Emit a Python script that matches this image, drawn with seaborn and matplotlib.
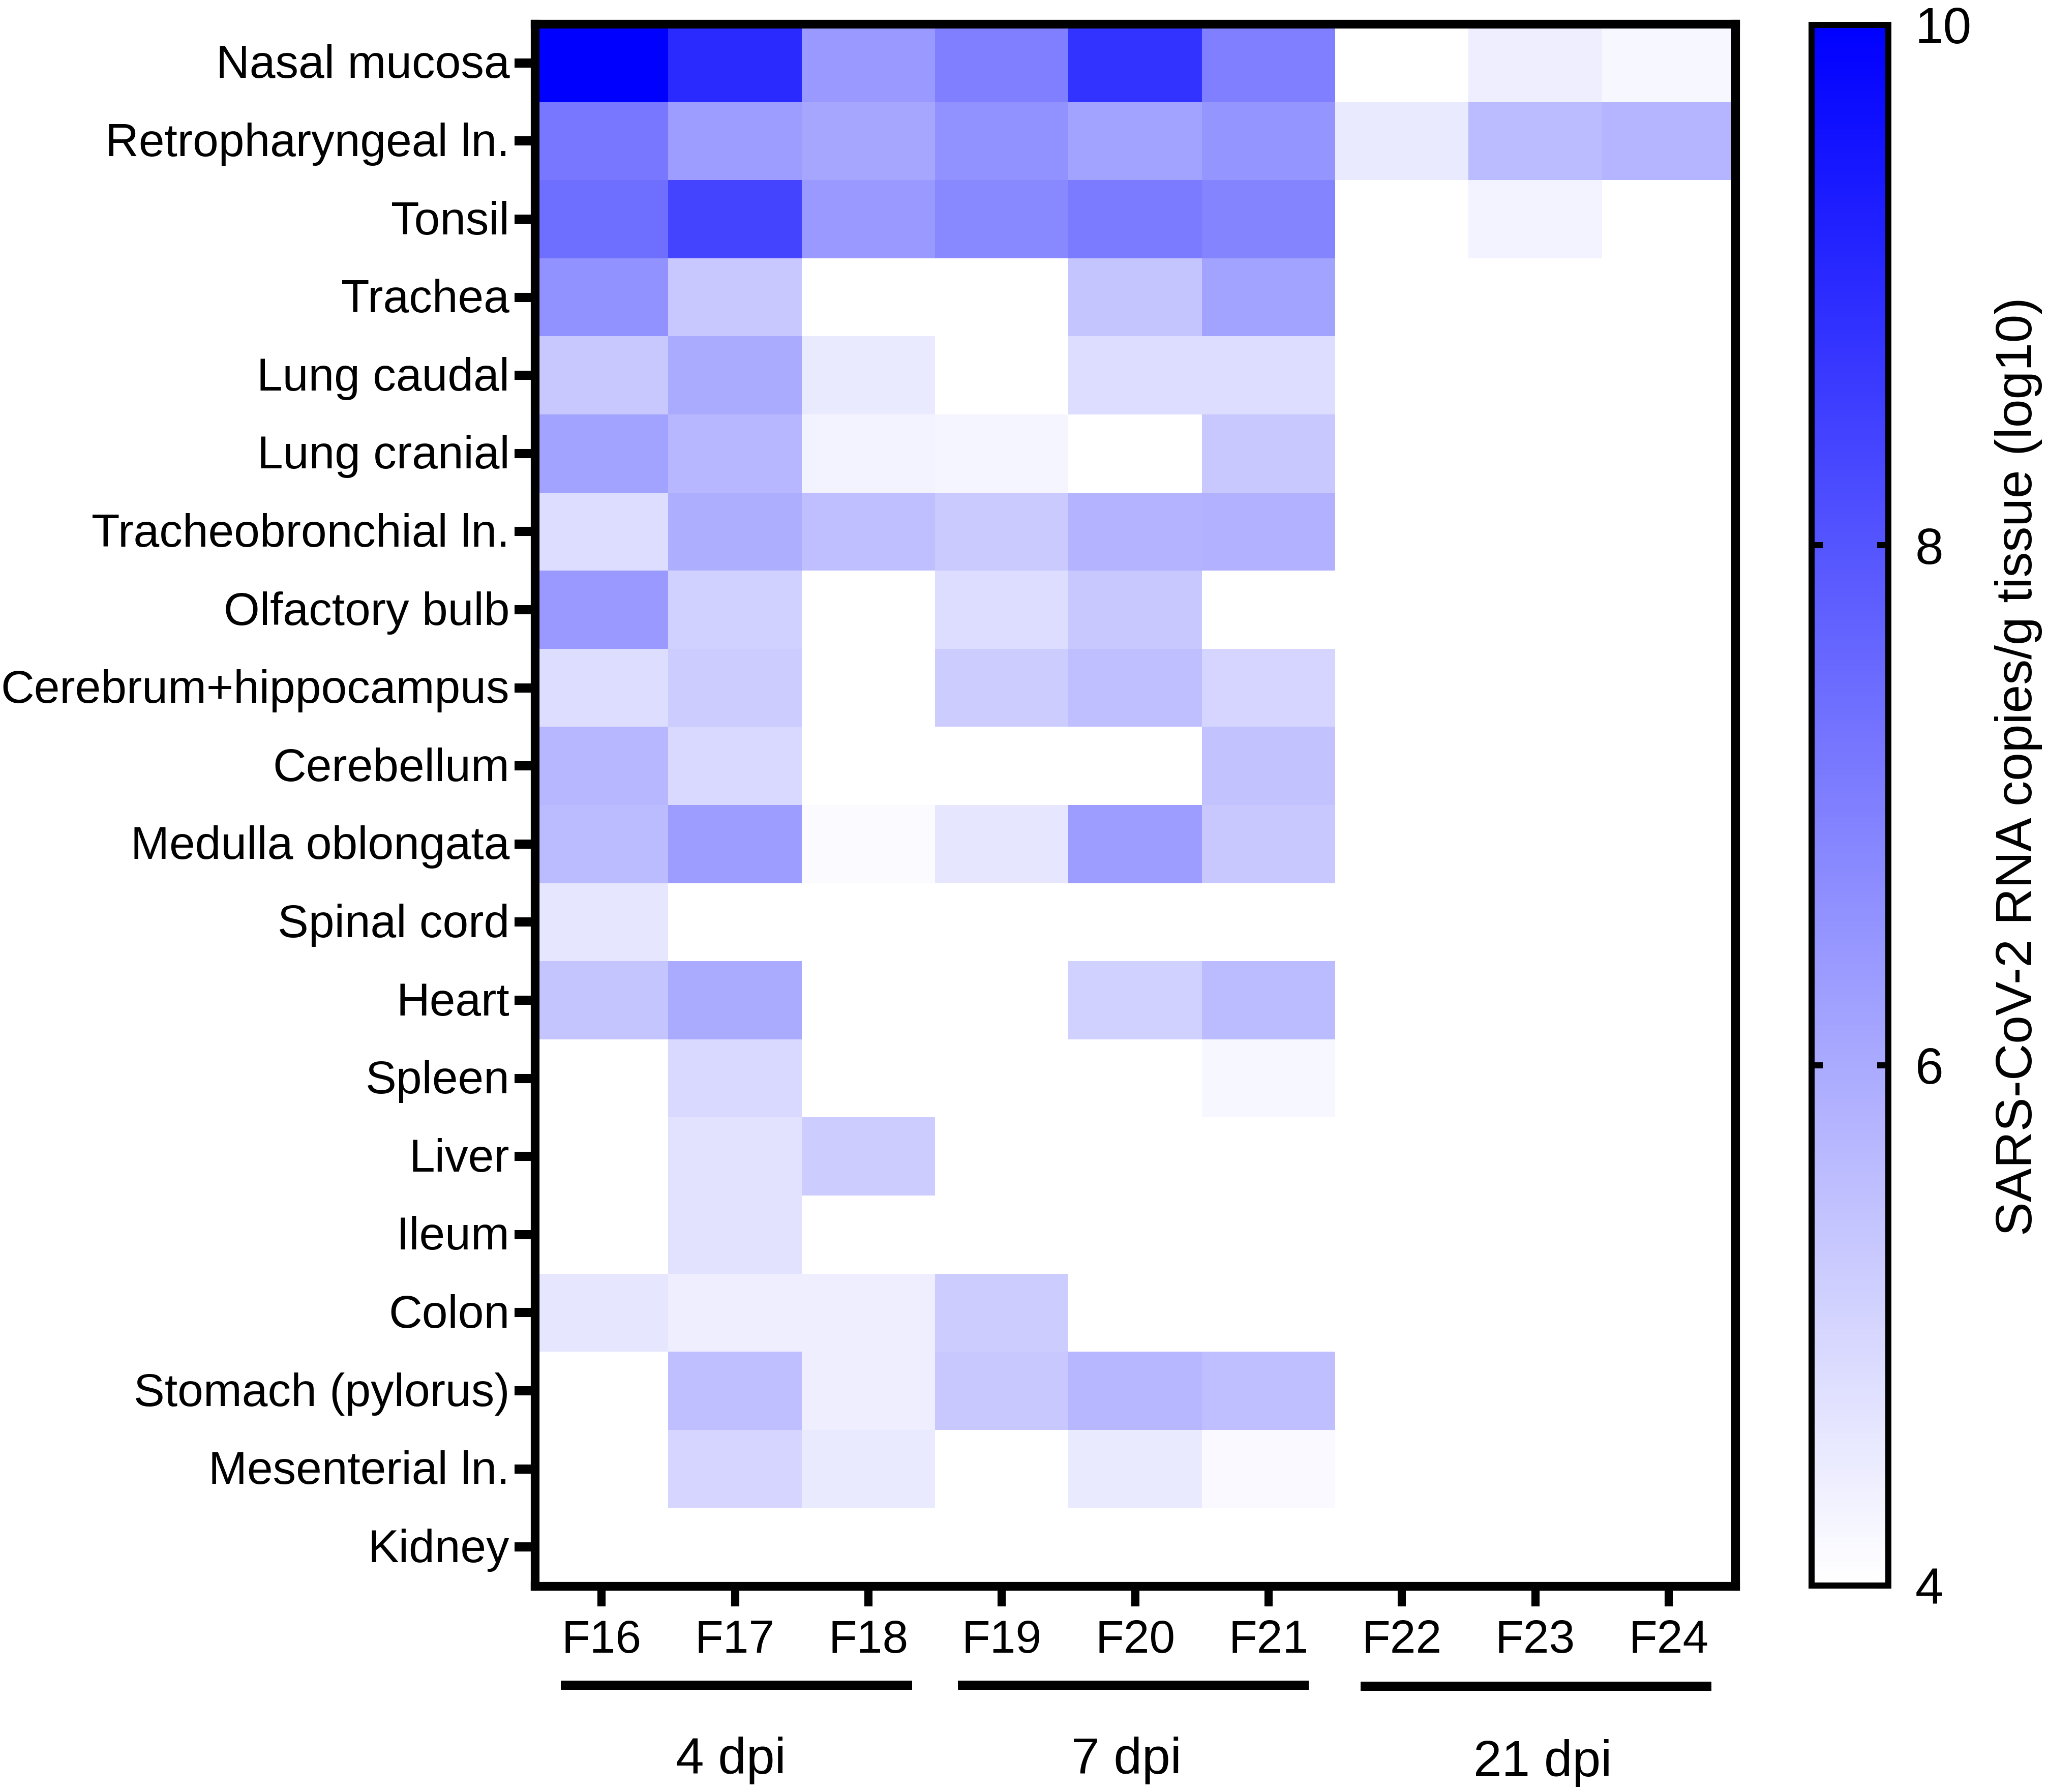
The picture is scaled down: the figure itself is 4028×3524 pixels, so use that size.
"""Heatmap of SARS-CoV-2 RNA load per tissue and animal."""

import numpy as np
import pandas as pd
import matplotlib
matplotlib.use("Agg")
import matplotlib.pyplot as plt
from matplotlib.colors import LinearSegmentedColormap
from matplotlib.transforms import ScaledTranslation, blended_transform_factory
import seaborn as sns

# ── Data ───────────────────────────────────────────────────────────────────────
animals = ["F16", "F17", "F18", "F19", "F20", "F21", "F22", "F23", "F24"]
tissues = [
    "Nasal mucosa", "Retropharyngeal ln.", "Tonsil", "Trachea", "Lung caudal",
    "Lung cranial", "Tracheobronchial ln.", "Olfactory bulb",
    "Cerebrum+hippocampus", "Cerebellum", "Medulla oblongata", "Spinal cord",
    "Heart", "Spleen", "Liver", "Ileum", "Colon", "Stomach (pylorus)",
    "Mesenterial ln.", "Kidney",
]

nasal_mucosa     = [10.0, 9.0, 6.4, 7.0, 8.8, 7.0, 4.0, 4.4, 4.2]
retropharyngeal  = [7.2, 6.3, 6.1, 6.6, 6.2, 6.5, 4.5, 5.6, 5.75]
tonsil           = [7.4, 8.4, 6.4, 6.8, 7.1, 6.9, 4.0, 4.3, 4.0]
trachea          = [6.6, 5.3, 4.0, 4.0, 5.4, 6.2, 4.0, 4.0, 4.0]
lung_caudal      = [5.3, 6.0, 4.5, 4.0, 4.8, 4.8, 4.0, 4.0, 4.0]
lung_cranial     = [6.2, 5.7, 4.3, 4.25, 4.0, 5.3, 4.0, 4.0, 4.0]
tracheobronchial = [4.8, 5.9, 5.5, 5.25, 5.8, 5.85, 4.0, 4.0, 4.0]
olfactory_bulb   = [6.4, 5.1, 4.0, 4.8, 5.3, 4.0, 4.0, 4.0, 4.0]
cerebrum         = [4.8, 5.2, 4.0, 5.2, 5.5, 5.0, 4.0, 4.0, 4.0]
cerebellum       = [5.7, 4.9, 4.0, 4.0, 4.0, 5.45, 4.0, 4.0, 4.0]
medulla          = [5.6, 6.3, 4.1, 4.6, 6.3, 5.3, 4.0, 4.0, 4.0]
spinal_cord      = [4.6, 4.0, 4.0, 4.0, 4.0, 4.0, 4.0, 4.0, 4.0]
heart            = [5.4, 6.0, 4.0, 4.0, 5.1, 5.6, 4.0, 4.0, 4.0]
spleen           = [4.0, 4.9, 4.0, 4.0, 4.0, 4.2, 4.0, 4.0, 4.0]
liver            = [4.0, 4.7, 5.2, 4.0, 4.02, 4.0, 4.0, 4.0, 4.0]
ileum            = [4.0, 4.7, 4.0, 4.0, 4.0, 4.0, 4.0, 4.0, 4.0]
colon            = [4.6, 4.4, 4.4, 5.2, 4.0, 4.0, 4.0, 4.0, 4.0]
stomach          = [4.0, 5.5, 4.4, 5.3, 5.7, 5.5, 4.0, 4.0, 4.0]
mesenterial      = [4.0, 5.0, 4.5, 4.0, 4.5, 4.15, 4.0, 4.0, 4.0]
kidney           = [4.0, 4.0, 4.0, 4.0, 4.0, 4.0, 4.0, 4.0, 4.0]

group_labels = ["4 dpi", "7 dpi", "21 dpi"]
cbar_ticks = [4, 6, 8, 10]

# ── Config ─────────────────────────────────────────────────────────────────────
W, H, DPI = 4028, 3524, 200
TICK_FONT = 32.8
LABEL_FONT = 36


def fx(px):
    return px / W


def fy(px):
    return 1 - px / H


def main():
    sns.set_theme(style="white")
    plt.rcParams["font.family"] = ["Liberation Sans", "DejaVu Sans"]

    values = np.array([
        nasal_mucosa, retropharyngeal, tonsil, trachea, lung_caudal, lung_cranial,
        tracheobronchial, olfactory_bulb, cerebrum, cerebellum, medulla, spinal_cord,
        heart, spleen, liver, ileum, colon, stomach, mesenterial, kidney,
    ])
    df = pd.DataFrame(values, index=tissues, columns=animals)
    cmap = LinearSegmentedColormap.from_list("white_blue", ["#ffffff", "#0000ff"], N=256)

    fig = plt.figure(figsize=(W / DPI, H / DPI), dpi=DPI, facecolor="white")
    ax = fig.add_axes([fx(1052), fy(3119), fx(3413 - 1052), (3119 - 47) / H])
    cax = fig.add_axes([fx(3563), fy(3118), fx(3714 - 3563), (3118 - 49) / H])

    sns.heatmap(df, ax=ax, cbar_ax=cax, cmap=cmap, vmin=4, vmax=10,
                linewidths=0, square=False, cbar_kws={"ticks": cbar_ticks})

    # frame and ticks
    for spine in ax.spines.values():
        spine.set_visible(True)
        spine.set_color("black")
        spine.set_linewidth(6.2)
    ax.set_xlabel("")
    ax.set_ylabel("")
    ax.tick_params(axis="x", bottom=True, length=14.4, width=5.8, pad=9,
                   labelsize=TICK_FONT, labelrotation=0, color="black", labelcolor="black")
    ax.tick_params(axis="y", left=True, length=14.4, width=6.5, pad=3.5,
                   labelsize=TICK_FONT, labelrotation=0, color="black", labelcolor="black")
    # labels sit a touch below their ticks in the original
    nudge = ScaledTranslation(0, -6 / DPI, fig.dpi_scale_trans)
    for label in ax.get_yticklabels():
        label.set_transform(label.get_transform() + nudge)

    # colourbar
    cbar = ax.collections[0].colorbar
    cbar.outline.set_edgecolor("black")
    cbar.outline.set_linewidth(4.3)
    cax.set_axisbelow(False)
    cax.tick_params(axis="y", which="major", left=True, right=True, direction="in",
                    length=8, width=4.3, pad=19, labelsize=LABEL_FONT, color="black",
                    labelcolor="black")
    fig.text(fx(3970), fy(1507), "SARS-CoV-2 RNA copies/g tissue (log10)", rotation=90,
             ha="center", va="center", fontsize=LABEL_FONT, color="black")

    # group bars under the animals
    trans = blended_transform_factory(ax.transData, fig.transFigure)
    spans = [(0.195, 2.83), (3.17, 5.80), (6.19, 8.82)]
    bar_y = [3314, 3314, 3316]
    label_x = [1.47, 4.435, 7.555]
    label_y = [3462, 3462, 3467]
    for (x0, x1), by, tx, ty, label in zip(spans, bar_y, label_x, label_y, group_labels):
        ax.plot([x0, x1], [fy(by)] * 2, transform=trans, color="black", lw=6.5,
                clip_on=False, solid_capstyle="butt")
        ax.text(tx, fy(ty), label, transform=trans, ha="center", va="center",
                fontsize=LABEL_FONT, color="black", clip_on=False)

    fig.savefig("out.png", dpi=DPI)
    plt.close(fig)


if __name__ == "__main__":
    main()
